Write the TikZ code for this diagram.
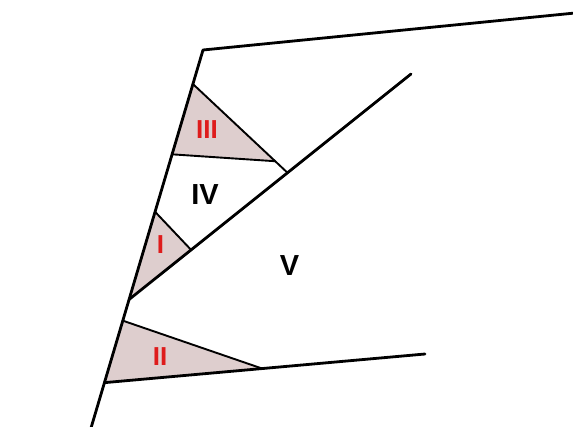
\documentclass[tikz,border=0pt]{standalone}
\usepackage{fontspec}
\setmainfont{Liberation Sans}
\usetikzlibrary{calc}
\definecolor{shade}{RGB}{222,206,206}
\definecolor{lblred}{RGB}{222,28,28}
\tikzset{
  mainline/.style={line width=2.8pt, line cap=round, line join=round},
  triline/.style={line width=1.9pt, line cap=round},
  wedge/.style={fill=shade},
  redlbl/.style={text=lblred, font=\bfseries\fontsize{26}{26}\selectfont, inner sep=0pt},
  blklbl/.style={text=black, font=\bfseries\fontsize{29}{29}\selectfont, inner sep=0pt}
}
\begin{document}
\begin{tikzpicture}[x=1pt,y=-1pt]
\useasboundingbox (0,0) rectangle (573,426);
% main frame points
\coordinate (TR) at (575,13);
\coordinate (TL) at (203,50);
\coordinate (BL) at (91,428);
\coordinate (DE) at (411,74);
\coordinate (BE) at (425,354);
% points on the left line
\coordinate (IIIt) at ($(TL)!0.090!(BL)$);
\coordinate (IIIb) at ($(TL)!0.276!(BL)$);
\coordinate (It)   at ($(TL)!0.428!(BL)$);
\coordinate (DS)   at ($(TL)!0.660!(BL)$);
\coordinate (IIt)  at ($(TL)!0.716!(BL)$);
\coordinate (IIb)  at ($(TL)!0.880!(BL)$);
% points on the diagonal and bottom line
\coordinate (Ir)   at ($(DS)!0.220!(DE)$);
\coordinate (IIId) at ($(DS)!0.562!(DE)$);
\coordinate (IIr)  at ($(IIb)!0.492!(BE)$);
\coordinate (IIIr) at ($(IIIt)!0.87!(IIId)$);
% shaded wedges
\fill[wedge] (IIIt) -- (IIIb) -- (IIIr) -- cycle;
\fill[wedge] (It) -- (DS) -- (Ir) -- cycle;
\fill[wedge] (IIt) -- (IIb) -- (IIr) -- cycle;
% wedge edges
\draw[triline] (IIIt) -- (IIId);
\draw[triline] (IIIb) -- (IIIr);
\draw[triline] (It) -- (Ir);
\draw[triline] (IIt) -- (IIr);
% main lines
\draw[mainline] (TR) -- (TL) -- (BL);
\draw[mainline] (DS) -- (DE);
\draw[mainline] (IIb) -- (BE);
% labels
\node[redlbl] (l3) at (207,130) {III};
\node[blklbl] (l4) at (205,195) {IV};
\node[redlbl] (l1) at (160.5,245) {I};
\node[blklbl] (l5) at (289.5,266) {V};
\node[redlbl] (l2) at (160,357) {II};
\end{tikzpicture}
\end{document}
